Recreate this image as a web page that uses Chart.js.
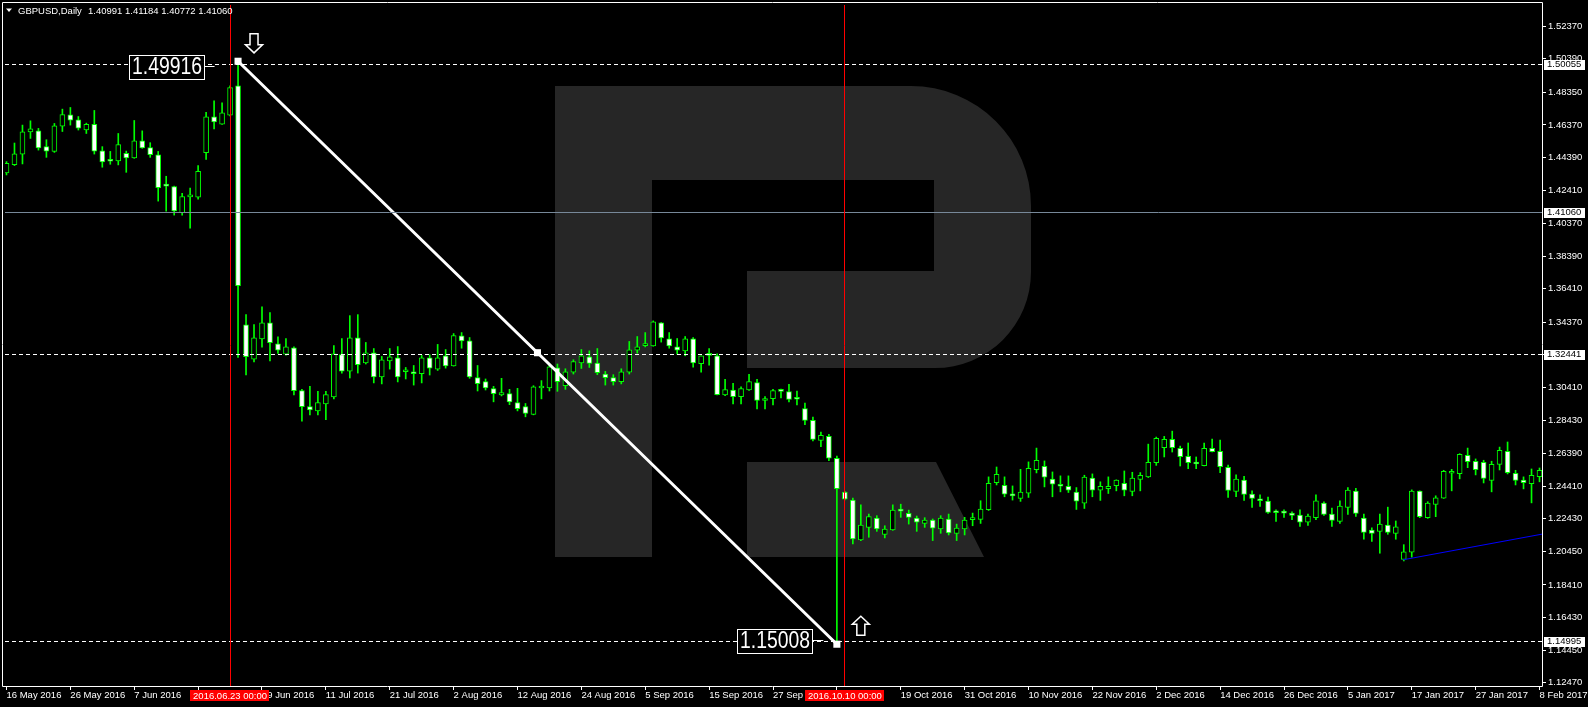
<!DOCTYPE html>
<html>
<head>
<meta charset="utf-8">
<title>GBPUSD,Daily</title>
<script src="https://cdn.jsdelivr.net/npm/chart.js@4.4.1/dist/chart.umd.min.js"></script>
<style>
  html, body { margin: 0; padding: 0; background: #000; overflow: hidden; }
</style>
</head>
<body>
<canvas id="gbpChart" width="1588" height="707"></canvas>
<script>
// header line of the chart window
const symbolTitle = 'GBPUSD,Daily';
const lastQuote = ['1.40991', '1.41184', '1.40772', '1.41060'];

// daily candles, 16 May 2016 .. 8 Feb 2017 (one per trading day)
const opens = [
  1.4345, 1.4396, 1.4460, 1.4595, 1.4601, 1.4505, 1.4476, 1.4630, 1.4698, 1.4668,
  1.4606, 1.4640, 1.4480, 1.4420, 1.4418, 1.4464, 1.4436, 1.4541, 1.4499, 1.4456,
  1.4269, 1.4263, 1.4103, 1.4200, 1.4198, 1.4468, 1.4686, 1.4642, 1.4696, 1.4874,
  1.3422, 1.3214, 1.3337, 1.3434, 1.3307, 1.3244, 1.3282, 1.3022, 1.2925, 1.2899,
  1.2942, 1.2984, 1.3242, 1.3141, 1.3343, 1.3190, 1.3252, 1.3105, 1.3202, 1.3222,
  1.3137, 1.3137, 1.3125, 1.3222, 1.3153, 1.3234, 1.3173, 1.3355, 1.3325, 1.3101,
  1.3077, 1.3034, 1.2996, 1.3004, 1.2950, 1.2925, 1.2877, 1.3038, 1.3038, 1.3161,
  1.3052, 1.3135, 1.3190, 1.3228, 1.3190, 1.3123, 1.3101, 1.3077, 1.3135, 1.3268,
  1.3296, 1.3294, 1.3434, 1.3337, 1.3288, 1.3264, 1.3337, 1.3186, 1.3240, 1.3234,
  1.2996, 1.3026, 1.2986, 1.3026, 1.3071, 1.2962, 1.2974, 1.3022, 1.3016, 1.2974,
  1.2913, 1.2841, 1.2720, 1.2744, 1.2611, 1.2405, 1.2357, 1.2115, 1.2191, 1.2248,
  1.2149, 1.2175, 1.2294, 1.2276, 1.2248, 1.2215, 1.2236, 1.2181, 1.2242, 1.2155,
  1.2181, 1.2238, 1.2240, 1.2298, 1.2463, 1.2447, 1.2387, 1.2367, 1.2399, 1.2542,
  1.2562, 1.2484, 1.2445, 1.2441, 1.2405, 1.2338, 1.2490, 1.2417, 1.2427, 1.2445,
  1.2459, 1.2409, 1.2482, 1.2498, 1.2585, 1.2675, 1.2726, 1.2671, 1.2623, 1.2580,
  1.2566, 1.2671, 1.2653, 1.2556, 1.2409, 1.2478, 1.2393, 1.2357, 1.2351, 1.2284,
  1.2282, 1.2278, 1.2266, 1.2223, 1.2250, 1.2338, 1.2272, 1.2228, 1.2312, 1.2411,
  1.2248, 1.2175, 1.2167, 1.2205, 1.2155, 1.1996, 1.2040, 1.2411, 1.2250, 1.2330,
  1.2369, 1.2520, 1.2518, 1.2629, 1.2593, 1.2587, 1.2476, 1.2574, 1.2653, 1.2520,
  1.2478, 1.2457, 1.2500
];
const highs = [
  1.4414, 1.4527, 1.4636, 1.4662, 1.4616, 1.4547, 1.4646, 1.4733, 1.4743, 1.4688,
  1.4648, 1.4725, 1.4505, 1.4476, 1.4585, 1.4478, 1.4664, 1.4601, 1.4529, 1.4476,
  1.4325, 1.4265, 1.4222, 1.4253, 1.4390, 1.4714, 1.4783, 1.4771, 1.4874, 1.5024,
  1.3484, 1.3424, 1.3532, 1.3496, 1.3349, 1.3339, 1.3288, 1.3030, 1.3048, 1.3018,
  1.3018, 1.3296, 1.3339, 1.3478, 1.3484, 1.3315, 1.3278, 1.3230, 1.3278, 1.3290,
  1.3163, 1.3175, 1.3236, 1.3240, 1.3303, 1.3272, 1.3369, 1.3375, 1.3345, 1.3175,
  1.3093, 1.3048, 1.3097, 1.3030, 1.3036, 1.2944, 1.3052, 1.3083, 1.3186, 1.3184,
  1.3155, 1.3210, 1.3272, 1.3264, 1.3278, 1.3139, 1.3119, 1.3155, 1.3321, 1.3351,
  1.3375, 1.3446, 1.3436, 1.3375, 1.3339, 1.3351, 1.3345, 1.3234, 1.3278, 1.3246,
  1.3091, 1.3067, 1.3046, 1.3121, 1.3091, 1.2986, 1.3030, 1.3032, 1.3061, 1.3020,
  1.2946, 1.2861, 1.2770, 1.2756, 1.2625, 1.2410, 1.2369, 1.2328, 1.2272, 1.2262,
  1.2201, 1.2328, 1.2332, 1.2296, 1.2260, 1.2250, 1.2242, 1.2262, 1.2272, 1.2211,
  1.2252, 1.2278, 1.2353, 1.2498, 1.2558, 1.2498, 1.2443, 1.2544, 1.2589, 1.2673,
  1.2595, 1.2528, 1.2504, 1.2504, 1.2433, 1.2508, 1.2516, 1.2468, 1.2498, 1.2480,
  1.2534, 1.2526, 1.2524, 1.2697, 1.2740, 1.2744, 1.2776, 1.2685, 1.2704, 1.2619,
  1.2704, 1.2728, 1.2722, 1.2570, 1.2510, 1.2502, 1.2413, 1.2389, 1.2375, 1.2298,
  1.2298, 1.2286, 1.2298, 1.2272, 1.2389, 1.2347, 1.2308, 1.2353, 1.2433, 1.2429,
  1.2272, 1.2189, 1.2272, 1.2314, 1.2230, 1.2086, 1.2419, 1.2413, 1.2347, 1.2383,
  1.2538, 1.2544, 1.2639, 1.2673, 1.2607, 1.2599, 1.2593, 1.2679, 1.2710, 1.2538,
  1.2498, 1.2546, 1.2552
];
const lows = [
  1.4333, 1.4390, 1.4400, 1.4555, 1.4484, 1.4440, 1.4470, 1.4597, 1.4636, 1.4606,
  1.4585, 1.4460, 1.4380, 1.4398, 1.4394, 1.4349, 1.4434, 1.4495, 1.4440, 1.4174,
  1.4113, 1.4089, 1.4089, 1.4010, 1.4186, 1.4428, 1.4612, 1.4640, 1.4692, 1.3224,
  1.3117, 1.3196, 1.3286, 1.3202, 1.3248, 1.3238, 1.2996, 1.2837, 1.2875, 1.2875,
  1.2845, 1.2972, 1.3129, 1.3099, 1.3129, 1.3184, 1.3069, 1.3063, 1.3153, 1.3075,
  1.3093, 1.3056, 1.3069, 1.3117, 1.3145, 1.3159, 1.3171, 1.3280, 1.3097, 1.3020,
  1.3026, 1.2954, 1.2990, 1.2937, 1.2899, 1.2863, 1.2875, 1.2972, 1.3020, 1.3018,
  1.3030, 1.3123, 1.3157, 1.3163, 1.3119, 1.3056, 1.3056, 1.3063, 1.3123, 1.3250,
  1.3288, 1.3292, 1.3317, 1.3280, 1.3244, 1.3234, 1.3165, 1.3135, 1.3177, 1.2996,
  1.2992, 1.2942, 1.2942, 1.3024, 1.2911, 1.2911, 1.2935, 1.2978, 1.2954, 1.2935,
  1.2816, 1.2716, 1.2681, 1.2597, 1.1485, 1.2358, 1.2091, 1.2111, 1.2131, 1.2167,
  1.2127, 1.2173, 1.2252, 1.2211, 1.2167, 1.2191, 1.2111, 1.2155, 1.2145, 1.2111,
  1.2145, 1.2201, 1.2215, 1.2294, 1.2449, 1.2377, 1.2357, 1.2349, 1.2373, 1.2522,
  1.2437, 1.2377, 1.2407, 1.2403, 1.2300, 1.2306, 1.2377, 1.2355, 1.2397, 1.2413,
  1.2383, 1.2383, 1.2413, 1.2494, 1.2568, 1.2619, 1.2649, 1.2564, 1.2548, 1.2548,
  1.2564, 1.2649, 1.2524, 1.2373, 1.2377, 1.2355, 1.2312, 1.2318, 1.2276, 1.2228,
  1.2252, 1.2238, 1.2197, 1.2203, 1.2238, 1.2264, 1.2197, 1.2215, 1.2270, 1.2258,
  1.2119, 1.2106, 1.2034, 1.2149, 1.2119, 1.1987, 1.2010, 1.2250, 1.2246, 1.2256,
  1.2367, 1.2413, 1.2486, 1.2554, 1.2510, 1.2461, 1.2407, 1.2540, 1.2516, 1.2449,
  1.2425, 1.2340, 1.2468
];
const closes = [
  1.4404, 1.4462, 1.4595, 1.4614, 1.4497, 1.4478, 1.4632, 1.4700, 1.4666, 1.4618,
  1.4640, 1.4478, 1.4412, 1.4416, 1.4517, 1.4436, 1.4541, 1.4497, 1.4456, 1.4255,
  1.4265, 1.4115, 1.4202, 1.4204, 1.4355, 1.4686, 1.4656, 1.4710, 1.4864, 1.3660,
  1.3228, 1.3343, 1.3434, 1.3313, 1.3268, 1.3288, 1.3022, 1.2925, 1.2905, 1.2950,
  1.2998, 1.3246, 1.3141, 1.3343, 1.3180, 1.3252, 1.3105, 1.3210, 1.3228, 1.3105,
  1.3141, 1.3125, 1.3222, 1.3159, 1.3222, 1.3173, 1.3357, 1.3325, 1.3105, 1.3065,
  1.3038, 1.3004, 1.3010, 1.2954, 1.2913, 1.2883, 1.3046, 1.3042, 1.3167, 1.3077,
  1.3137, 1.3198, 1.3234, 1.3188, 1.3131, 1.3101, 1.3077, 1.3137, 1.3270, 1.3288,
  1.3300, 1.3440, 1.3343, 1.3294, 1.3268, 1.3337, 1.3190, 1.3234, 1.3236, 1.2998,
  1.3028, 1.2986, 1.3034, 1.3077, 1.2962, 1.2974, 1.3022, 1.3018, 1.2968, 1.2970,
  1.2841, 1.2726, 1.2750, 1.2611, 1.2427, 1.2363, 1.2121, 1.2205, 1.2256, 1.2181,
  1.2181, 1.2296, 1.2290, 1.2252, 1.2223, 1.2236, 1.2187, 1.2248, 1.2157, 1.2187,
  1.2236, 1.2242, 1.2302, 1.2459, 1.2514, 1.2393, 1.2383, 1.2405, 1.2550, 1.2599,
  1.2496, 1.2453, 1.2441, 1.2417, 1.2351, 1.2496, 1.2417, 1.2441, 1.2441, 1.2478,
  1.2417, 1.2490, 1.2508, 1.2587, 1.2732, 1.2726, 1.2675, 1.2621, 1.2585, 1.2576,
  1.2671, 1.2651, 1.2560, 1.2415, 1.2484, 1.2391, 1.2367, 1.2353, 1.2282, 1.2280,
  1.2278, 1.2264, 1.2223, 1.2260, 1.2353, 1.2270, 1.2234, 1.2320, 1.2417, 1.2276,
  1.2161, 1.2155, 1.2211, 1.2161, 1.2195, 1.2042, 1.2411, 1.2256, 1.2338, 1.2371,
  1.2532, 1.2524, 1.2635, 1.2591, 1.2542, 1.2488, 1.2574, 1.2659, 1.2524, 1.2476,
  1.2463, 1.2508, 1.2538
];

// time axis: one label every 8 bars
const labelStep = 8;
const dateLabels = [
  '16 May 2016', '26 May 2016', '7 Jun 2016', '17 Jun 2016', '29 Jun 2016',
  '11 Jul 2016', '21 Jul 2016', '2 Aug 2016', '12 Aug 2016', '24 Aug 2016',
  '5 Sep 2016', '15 Sep 2016', '27 Sep 2016', '7 Oct 2016', '19 Oct 2016',
  '31 Oct 2016', '10 Nov 2016', '22 Nov 2016', '2 Dec 2016', '14 Dec 2016',
  '26 Dec 2016', '5 Jan 2017', '17 Jan 2017', '27 Jan 2017', '8 Feb 2017'
];

// price axis
const priceTicks = [
  1.52370, 1.50390, 1.48350, 1.46370, 1.44390, 1.42410, 1.40370, 1.38390, 1.36410, 1.34370,
  1.32390, 1.30410, 1.28430, 1.26390, 1.24410, 1.22430, 1.20450, 1.18410, 1.16430, 1.14450, 1.12470
];
const priceMin = 1.12270;
const priceMax = 1.53659;

// objects drawn on the chart
const dashedLevels = [1.50055, 1.32441, 1.14995];
const currentPrice = 1.41060;
const markerBars = [28, 105];
const markerTimes = ['2016.06.23 00:00', '2016.10.10 00:00'];
const trendBars = [29, 66.5, 104];
const trendPrices = [1.5024, 1.32526, 1.1481];
const tagBars = [26.06, 102.3];
const tagPrices = [1.49916, 1.15008];
const arrowBars = [31, 107];
const arrowPrices = [1.5075, 1.1651];
const supportBars = [174.9, 192.44];
const supportPrices = [1.1994, 1.2151];

Chart.defaults.font.family = '"Liberation Sans", Arial, sans-serif';

const bodyData = opens.map((o, i) => ({ x: i, y: [o, closes[i]] }));
const wickData = opens.map((o, i) => ({ x: i, y: [lows[i], highs[i]] }));
const bodyColors = opens.map((o, i) => closes[i] >= o ? '#000000' : '#ffffff');

const fmt = v => v.toFixed(5);

// hollow arrow like the MT4 arrow objects
function drawArrow(ctx, cx, tipY, dir) {
  const s = dir; // 1 = points down, -1 = points up
  ctx.beginPath();
  ctx.moveTo(cx - 4, tipY - s * 19);
  ctx.lineTo(cx + 4, tipY - s * 19);
  ctx.lineTo(cx + 4, tipY - s * 8);
  ctx.lineTo(cx + 8.5, tipY - s * 8);
  ctx.lineTo(cx, tipY);
  ctx.lineTo(cx - 8.5, tipY - s * 8);
  ctx.lineTo(cx - 4, tipY - s * 8);
  ctx.closePath();
  ctx.fillStyle = '#000';
  ctx.fill();
  ctx.strokeStyle = '#fff';
  ctx.lineWidth = 1.5;
  ctx.stroke();
}

const mt4Overlay = {
  id: 'mt4Overlay',
  beforeDatasetsDraw(chart) {
    // broker watermark behind the candles
    const ctx = chart.ctx;
    ctx.save();
    ctx.fillStyle = '#262626';
    ctx.beginPath();
    ctx.moveTo(555, 86);
    ctx.lineTo(911, 86);
    ctx.arcTo(1031, 86, 1031, 206, 120);
    ctx.lineTo(1031, 272);
    ctx.arcTo(1031, 368, 935, 368, 96);
    ctx.lineTo(747, 368);
    ctx.lineTo(747, 271);
    ctx.lineTo(934, 271);
    ctx.lineTo(934, 180);
    ctx.lineTo(652, 180);
    ctx.lineTo(652, 557);
    ctx.lineTo(555, 557);
    ctx.closePath();
    ctx.moveTo(747, 462);
    ctx.lineTo(936, 462);
    ctx.lineTo(984, 557);
    ctx.lineTo(747, 557);
    ctx.closePath();
    ctx.fill();
    ctx.restore();
  },
  afterDatasetsDraw(chart) {
    const { ctx, chartArea: a, scales: { x, y } } = chart;
    ctx.save();
    ctx.lineWidth = 1;

    let py = Math.floor(y.getPixelForValue(currentPrice)) + 0.5;
    ctx.strokeStyle = '#778899';
    ctx.beginPath();
    ctx.moveTo(a.left, py);
    ctx.lineTo(a.right, py);
    ctx.stroke();

    ctx.strokeStyle = '#ffffff';
    ctx.setLineDash([4, 3]);
    dashedLevels.forEach(p => {
      const ly = Math.floor(y.getPixelForValue(p)) + 0.5;
      ctx.beginPath();
      ctx.moveTo(a.left, ly);
      ctx.lineTo(a.right, ly);
      ctx.stroke();
    });
    ctx.setLineDash([]);

    ctx.strokeStyle = '#ff0000';
    markerBars.forEach(b => {
      const lx = Math.floor(x.getPixelForValue(b)) + 0.5;
      ctx.beginPath();
      ctx.moveTo(lx, a.top);
      ctx.lineTo(lx, a.bottom);
      ctx.stroke();
    });
    ctx.restore();
  },
  afterDraw(chart) {
    const { ctx, scales: { x, y } } = chart;
    ctx.save();

    // price tags at both ends of the trend line
    tagBars.forEach((b, k) => {
      const tipX = x.getPixelForValue(b);
      const ty = y.getPixelForValue(tagPrices[k]);
      ctx.strokeStyle = '#fff';
      ctx.lineWidth = 1;
      ctx.beginPath();
      ctx.moveTo(tipX - 11, Math.floor(ty) + 0.5);
      ctx.lineTo(tipX, Math.floor(ty) + 0.5);
      ctx.stroke();
      const right = Math.round(tipX - 11) + 0.5;
      const top = Math.round(ty - 12) + 0.5;
      ctx.fillStyle = '#000';
      ctx.fillRect(right - 75, top, 75, 24);
      ctx.strokeRect(right - 75, top, 75, 24);
      ctx.font = '23px "Liberation Sans"';
      const txt = fmt(tagPrices[k]);
      const w = ctx.measureText(txt).width;
      ctx.save();
      ctx.translate(right - 37.5, ty + 1);
      ctx.scale(70 / w, 1);
      ctx.fillStyle = '#fff';
      ctx.textAlign = 'center';
      ctx.textBaseline = 'middle';
      ctx.fillText(txt, 0, 0);
      ctx.restore();
    });

    arrowBars.forEach((b, k) => {
      drawArrow(ctx, x.getPixelForValue(b), y.getPixelForValue(arrowPrices[k]), k === 0 ? 1 : -1);
    });

    // chart frame
    ctx.strokeStyle = '#fff';
    ctx.lineWidth = 1;
    ctx.beginPath();
    ctx.moveTo(2.5, 686.5);
    ctx.lineTo(2.5, 2.5);
    ctx.lineTo(1542.5, 2.5);
    ctx.lineTo(1542.5, 686.5);
    ctx.lineTo(2.5, 686.5);
    ctx.stroke();

    // level boxes on the price scale
    ctx.font = '9.5px "Liberation Sans"';
    ctx.textBaseline = 'middle';
    [...dashedLevels, currentPrice].forEach(p => {
      const by = y.getPixelForValue(p);
      ctx.fillStyle = '#fff';
      ctx.fillRect(1544, Math.round(by - 4.5), 41, 10);
      ctx.fillStyle = '#000';
      ctx.textAlign = 'left';
      ctx.fillText(fmt(p), 1547, by + 0.5);
    });

    // time boxes of the vertical lines
    markerBars.forEach((b, k) => {
      const bx = x.getPixelForValue(b);
      ctx.fillStyle = '#ff0000';
      ctx.fillRect(Math.round(bx - 40), 690, 79, 11);
      ctx.fillStyle = '#fff';
      ctx.textAlign = 'center';
      ctx.fillText(markerTimes[k], bx, 696);
    });

    // window title
    ctx.fillStyle = '#fff';
    ctx.beginPath();
    ctx.moveTo(6, 8.5);
    ctx.lineTo(12, 8.5);
    ctx.lineTo(9, 12);
    ctx.closePath();
    ctx.fill();
    ctx.textAlign = 'left';
    ctx.font = '9.5px "Liberation Sans"';
    ctx.fillText(symbolTitle, 18, 11);
    ctx.fillText(lastQuote.join(' '), 88, 11);
    ctx.restore();
  }
};

const config = {
  type: 'bar',
  data: {
    datasets: [
      {
        type: 'line',
        label: 'Trend',
        data: trendBars.map((b, i) => ({ x: b, y: trendPrices[i] })),
        borderColor: '#ffffff',
        borderWidth: 3,
        pointStyle: 'rect',
        pointRadius: 5,
        pointBackgroundColor: '#ffffff',
        pointBorderWidth: 0,
        order: 0
      },
      {
        type: 'line',
        label: 'Support',
        data: supportBars.map((b, i) => ({ x: b, y: supportPrices[i] })),
        borderColor: '#0000ff',
        borderWidth: 1,
        pointRadius: 0,
        order: 0
      },
      {
        label: 'Body',
        data: bodyData,
        backgroundColor: bodyColors,
        borderColor: '#00ff00',
        borderWidth: 1,
        borderSkipped: false,
        barThickness: 5,
        minBarLength: 2,
        grouped: false,
        order: 1
      },
      {
        label: 'Wick',
        data: wickData,
        backgroundColor: '#00ff00',
        barThickness: 1,
        grouped: false,
        order: 2
      }
    ]
  },
  options: {
    responsive: false,
    animation: false,
    events: [],
    layout: { padding: { left: 2, top: 2, right: 0, bottom: 0 } },
    plugins: {
      legend: { display: false },
      tooltip: { enabled: false }
    },
    scales: {
      x: {
        type: 'linear',
        offset: false,
        bounds: 'data',
        min: -0.1875,
        max: 192.4375,
        afterBuildTicks: s => { s.ticks = dateLabels.map((_, k) => ({ value: k * labelStep })); },
        afterFit: s => { s.height = 21; s.paddingLeft = 0; s.paddingRight = 0; },
        grid: { offset: false, drawOnChartArea: false, color: '#ffffff', tickLength: 4 },
        border: { display: false },
        ticks: {
          color: '#ffffff',
          font: { size: 9.5 },
          align: 'start',
          padding: 0,
          autoSkip: false,
          maxRotation: 0,
          minRotation: 0,
          callback: (v, i) => dateLabels[i]
        }
      },
      y: {
        position: 'right',
        bounds: 'data',
        min: priceMin,
        max: priceMax,
        afterBuildTicks: s => { s.ticks = priceTicks.map(v => ({ value: v })); },
        afterFit: s => { s.width = 45; s.paddingTop = 0; s.paddingBottom = 0; },
        grid: { drawOnChartArea: false, color: '#ffffff', tickLength: 3 },
        border: { display: false },
        ticks: {
          color: '#ffffff',
          font: { size: 9.5 },
          padding: 2,
          autoSkip: false,
          callback: v => fmt(v)
        }
      }
    }
  },
  plugins: [mt4Overlay]
};

new Chart(document.getElementById('gbpChart').getContext('2d'), config);
</script>
</body>
</html>
